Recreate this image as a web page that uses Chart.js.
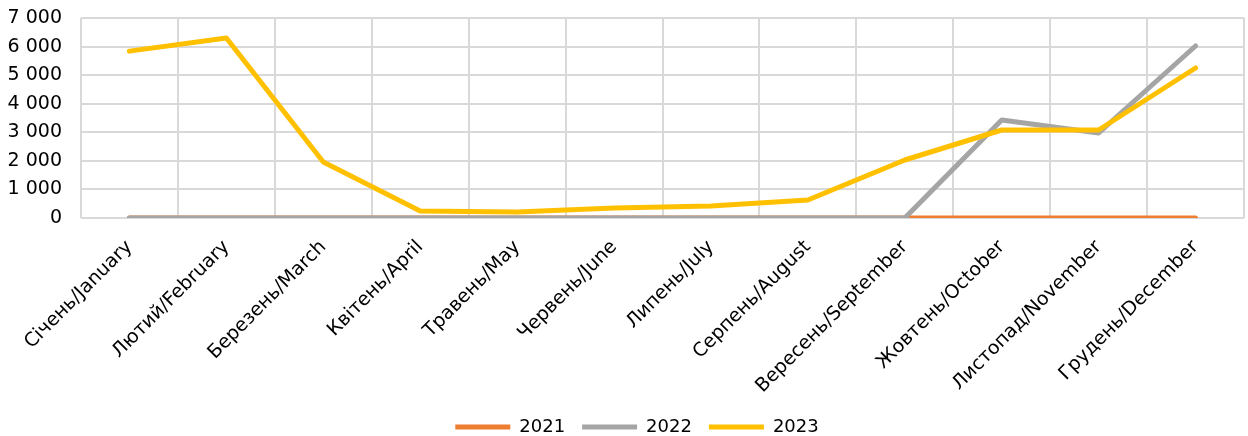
<!DOCTYPE html>
<html>
<head>
<meta charset="utf-8">
<script src="https://cdn.jsdelivr.net/npm/chart.js@4"></script>
<style>
    html, body { margin: 0; padding: 0; background: #fff; }
    #wrap { width: 1248px; height: 436px; }
</style>
</head>
<body>
<div id="wrap"><canvas id="chartMonthly"></canvas></div>
<script>
const months = [
    "Січень/January", "Лютий/February", "Березень/March", "Квітень/April",
    "Травень/May", "Червень/June", "Липень/July", "Серпень/August",
    "Вересень/September", "Жовтень/October", "Листопад/November", "Грудень/December"
];
const years = ["2021", "2022", "2023"];
const values2021 = [0, 0, 0, 0, 0, 0, 0, 0, 0, 0, 0, 0];
const values2022 = [0, 0, 0, 0, 0, 0, 0, 0, 0, 3430, 2975, 6020];
const values2023 = [5840, 6300, 1960, 245, 210, 350, 420, 630, 2030, 3080, 3080, 5250];
const yTicks = [0, 1000, 2000, 3000, 4000, 5000, 6000, 7000];

const colors = ["#ED7D31", "#A5A5A5", "#FFC000"];
const seriesValues = [values2021, values2022, values2023];

Chart.defaults.font.family = "'DejaVu Sans', Verdana, sans-serif";
Chart.defaults.color = "#000";

// 2023 drawn on top, 2021 at the bottom
const datasets = years.map((year, i) => ({
    label: year,
    data: seriesValues[i],
    borderColor: colors[i],
    backgroundColor: colors[i],
    borderWidth: 5,
    borderCapStyle: "round",
    borderJoinStyle: "round",
    pointRadius: 0,
    tension: 0,
    order: 2 - i
}));

const fmt = v => String(v).replace(/\B(?=(\d{3})+(?!\d))/g, " ");

// legend sits centred under the plot area, not the whole canvas
const shiftLegend = {
    id: "shiftLegend",
    afterLayout: chart => {
        chart.legend.left += 11;
        chart.legend.right += 11;
    }
};

new Chart(document.getElementById("chartMonthly"), {
    type: "line",
    data: { labels: months, datasets: datasets },
    plugins: [shiftLegend],
    options: {
        responsive: true,
        maintainAspectRatio: false,
        animation: false,
        layout: { padding: { top: 0, right: 4, left: 8, bottom: -10 } },
        plugins: {
            tooltip: { enabled: false },
            legend: {
                position: "bottom",
                labels: {
                    usePointStyle: true,
                    pointStyle: "line",
                    pointStyleWidth: 55,
                    boxHeight: 5,
                    padding: 17,
                    font: { size: 18 },
                    sort: (a, b) => a.datasetIndex - b.datasetIndex
                }
            }
        },
        scales: {
            x: {
                offset: true,
                grid: { offset: true, color: "#d9d9d9", lineWidth: 2, drawTicks: false },
                border: { display: false },
                // keep the plot bottom where the reference has it
                afterFit: axis => { axis.paddingLeft = 0; axis.paddingRight = 0; axis.height = 183; },
                ticks: { minRotation: 45, maxRotation: 45, padding: 18, font: { size: 19 }, autoSkip: false }
            },
            y: {
                min: 0,
                max: 7000,
                afterBuildTicks: axis => { axis.ticks = yTicks.map(v => ({ value: v })); },
                afterFit: axis => { axis.width = 73; axis.paddingTop = 18; axis.paddingBottom = 0; },
                grid: { color: "#d9d9d9", lineWidth: 2, drawTicks: false },
                border: { display: false },
                ticks: { padding: 19, font: { size: 19 }, callback: v => fmt(v) }
            }
        }
    }
});
</script>
</body>
</html>
